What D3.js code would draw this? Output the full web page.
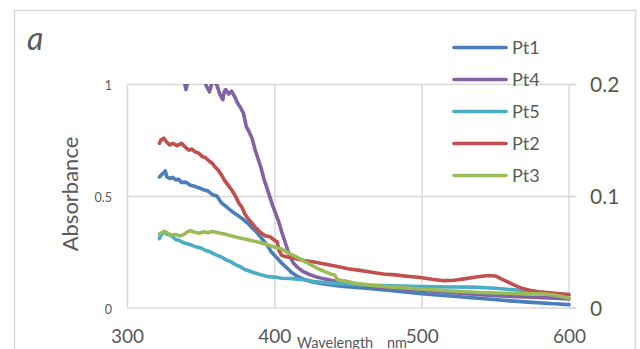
<!DOCTYPE html>
<html>
<head>
<meta charset="utf-8">
<script src="https://cdn.jsdelivr.net/npm/d3@7"></script>
<style>
  html, body { margin: 0; padding: 0; background: #fff; }
  svg { display: block; font-family: Lato, "Open Sans", sans-serif; }
</style>
</head>
<body>
<svg id="chart" width="640" height="349"></svg>
<script>
// Absorbance spectra (wavelength in nm, absorbance)
const pt1Nm  = [322,324,326,327,329,331,333,335,337,340,343,346,349,352,355,358,361,364,367,371,375,378,382,385,388,392,395,398,402,405,409,412,416,420,426,435,445,460,475,490,500,515,530,545,560,575,590,600];
const pt1Abs = [0.585,0.598,0.612,0.585,0.578,0.583,0.572,0.575,0.560,0.562,0.548,0.543,0.536,0.528,0.522,0.506,0.500,0.470,0.455,0.432,0.414,0.400,0.378,0.357,0.338,0.306,0.282,0.250,0.222,0.200,0.176,0.157,0.140,0.128,0.116,0.106,0.097,0.089,0.080,0.071,0.064,0.056,0.048,0.040,0.032,0.025,0.019,0.015];

const pt4Nm  = [322,330,338,340,341,342,348,353,354,356,357,358,361,363,365,366,367,369,371,373,375,377,379,381,383,385,387,389,391,393,395,397,399,401,403,405,407,409,411,413,416,419,423,428,434,443,455,470,485,500,515,530,545,560,575,590,600];
const pt4Abs = [1.10,1.08,1.04,0.975,1.0,1.04,1.03,1.005,0.99,0.965,0.99,1.02,0.995,0.955,0.93,0.965,0.975,0.955,0.968,0.945,0.915,0.895,0.87,0.81,0.785,0.755,0.705,0.665,0.625,0.575,0.535,0.495,0.455,0.42,0.385,0.34,0.30,0.26,0.225,0.20,0.18,0.165,0.152,0.14,0.13,0.117,0.105,0.094,0.086,0.080,0.072,0.064,0.057,0.052,0.048,0.044,0.040];

const pt5Nm  = [322,323,325,327,329,331,333,336,339,342,346,350,353,356,360,364,367,370,374,377,380,384,387,391,396,400,405,410,414,420,427,440,460,480,500,520,535,550,565,580,590,600];
const pt5Abs = [0.31,0.325,0.34,0.33,0.326,0.318,0.306,0.300,0.290,0.285,0.275,0.268,0.258,0.252,0.238,0.228,0.216,0.208,0.192,0.184,0.172,0.163,0.156,0.148,0.140,0.138,0.133,0.132,0.130,0.126,0.118,0.110,0.103,0.099,0.096,0.094,0.093,0.088,0.080,0.070,0.064,0.058];

const pt2Nm  = [322,323,325,327,329,331,334,337,339,342,344,346,349,351,353,356,358,360,362,364,366,369,371,374,376,378,380,382,385,387,389,391,394,397,400,402,403,405,408,411,415,420,427,434,442,450,458,466,474,482,490,499,507,515,522,530,537,545,550,554,558,563,568,574,580,590,600];
const pt2Abs = [0.735,0.75,0.758,0.74,0.728,0.735,0.725,0.735,0.722,0.705,0.710,0.698,0.690,0.676,0.672,0.655,0.645,0.628,0.615,0.595,0.572,0.545,0.528,0.495,0.467,0.45,0.42,0.40,0.378,0.36,0.348,0.335,0.322,0.318,0.303,0.295,0.258,0.235,0.229,0.226,0.220,0.212,0.205,0.196,0.186,0.175,0.168,0.160,0.152,0.148,0.142,0.136,0.128,0.122,0.124,0.131,0.138,0.145,0.143,0.130,0.118,0.102,0.088,0.078,0.072,0.066,0.060];

const pt3Nm  = [322,324,326,328,330,333,336,339,341,343,346,349,352,355,358,362,366,370,375,380,385,390,395,400,405,410,415,420,425,430,435,439,441,443,448,455,465,480,500,520,540,555,570,585,590,600];
const pt3Abs = [0.330,0.338,0.342,0.332,0.326,0.328,0.322,0.330,0.340,0.345,0.338,0.334,0.340,0.336,0.342,0.336,0.330,0.324,0.315,0.308,0.300,0.292,0.283,0.272,0.263,0.244,0.228,0.210,0.192,0.175,0.160,0.150,0.146,0.126,0.120,0.110,0.102,0.093,0.085,0.076,0.069,0.066,0.064,0.062,0.058,0.045];

const seriesNames  = ["Pt1", "Pt4", "Pt5", "Pt2", "Pt3"];
const seriesColors = ["#4a7ebb", "#8064a2", "#4bacc6", "#c0504d", "#9bbb59"];
const seriesNm  = [pt1Nm, pt4Nm, pt5Nm, pt2Nm, pt3Nm];
const seriesAbs = [pt1Abs, pt4Abs, pt5Abs, pt2Abs, pt3Abs];

const xTicks  = [300, 400, 500, 600];
const yTicks  = [0, 0.5, 1];
const y2Ticks = [0, 0.1, 0.2];

const svg = d3.select("#chart");
const grey = "#d9d9d9";
const textGrey = "#595959";

// Chart area frame
svg.append("rect").attr("x", 14.5).attr("y", 10.5).attr("width", 621).attr("height", 360)
  .attr("fill", "#fff").attr("stroke", grey).attr("stroke-width", 1.5);

const plot = { left: 127, right: 569, top: 84, bottom: 308 };
const x  = d3.scaleLinear().domain([300, 600]).range([plot.left, plot.right]);
const y  = d3.scaleLinear().domain([0, 1]).range([plot.bottom, plot.top]);
const y2 = d3.scaleLinear().domain([0, 0.2]).range([plot.bottom, plot.top]);

// Gridlines
const gx = svg.append("g").attr("transform", `translate(0,${plot.bottom})`)
  .call(d3.axisBottom(x).tickValues([400, 500]).tickSize(-(plot.bottom - plot.top)).tickFormat(""));
gx.select(".domain").remove();
gx.selectAll("line").attr("stroke", grey).attr("stroke-width", 1.5);

const gy = svg.append("g").attr("transform", `translate(${plot.left},0)`)
  .call(d3.axisRight(y).tickValues([0.5, 1]).tickSize(plot.right - plot.left + 7).tickFormat(""));
gy.select(".domain").remove();
gy.selectAll("line").attr("stroke", grey).attr("stroke-width", 1.5);

// Left axis
const ax = svg.append("g").attr("transform", `translate(${plot.left},0)`)
  .call(d3.axisLeft(y).tickValues(yTicks).tickSize(0).tickPadding(15).tickFormat(d3.format("")));
ax.select(".domain").attr("stroke", grey).attr("stroke-width", 1.5);
ax.selectAll("text").attr("fill", textGrey).attr("font-size", 12.5).attr("font-family", "Lato")
  .attr("dy", null).attr("y", 5.2);

// Right (secondary) axis
const ar = svg.append("g").attr("transform", `translate(${plot.right},0)`)
  .call(d3.axisRight(y2).tickValues(y2Ticks).tickSize(7).tickPadding(14).tickFormat(d3.format("")));
ar.select(".domain").attr("stroke", grey).attr("stroke-width", 1.5).attr("d", `M0,${plot.top}V${plot.bottom}`);
ar.selectAll("line").attr("stroke", grey).attr("stroke-width", 1.5);
ar.selectAll("text").attr("fill", textGrey).attr("font-size", 21).attr("font-family", "Lato")
  .attr("dy", null).attr("y", 7.6).attr("x", 21);

// Bottom axis
const ab = svg.append("g").attr("transform", `translate(0,${plot.bottom})`)
  .call(d3.axisBottom(x).tickValues(xTicks).tickSize(0).tickFormat(d3.format("")));
ab.select(".domain").attr("stroke", grey).attr("stroke-width", 1.5).attr("d", `M${plot.left},0H${plot.right + 7}`);
ab.selectAll("text").attr("fill", textGrey).attr("font-size", 19).attr("font-family", "Lato")
  .attr("dy", null).attr("y", 35);

// Axis titles
svg.append("text").attr("x", 297).attr("y", 347.5).attr("fill", textGrey)
  .attr("font-size", 14.5).text("Wavelength");
svg.append("text").attr("x", 387).attr("y", 347.5).attr("fill", textGrey)
  .attr("font-size", 14.5).text("nm");
svg.append("text").attr("transform", "translate(78,194) rotate(-90)").attr("text-anchor", "middle")
  .attr("fill", textGrey).attr("font-size", 22).text("Absorbance");

// Panel letter
svg.append("text").attr("x", 27).attr("y", 50).attr("fill", textGrey)
  .attr("font-size", 32).attr("font-style", "italic").text("a");

// Spectra, clipped to the plot area
svg.append("clipPath").attr("id", "plotClip").append("rect")
  .attr("x", plot.left).attr("y", plot.top).attr("width", plot.right - plot.left + 2).attr("height", plot.bottom - plot.top);

const line = d3.line().x(d => x(d[0])).y(d => y(d[1]));
const lines = svg.append("g").attr("clip-path", "url(#plotClip)");
seriesNames.forEach((name, i) => {
  const pts = seriesNm[i].map((nm, j) => [nm, seriesAbs[i][j]]);
  lines.append("path").datum(pts).attr("d", line)
    .attr("fill", "none").attr("stroke", seriesColors[i]).attr("stroke-width", 3.6)
    .attr("stroke-linejoin", "round").attr("stroke-linecap", "round");
});

// Legend
const legendY = d3.scalePoint().domain(seriesNames).range([47.5, 175.5]);
const legend = svg.append("g");
seriesNames.forEach((name, i) => {
  const ly = legendY(name);
  legend.append("line").attr("x1", 454).attr("x2", 506).attr("y1", ly).attr("y2", ly)
    .attr("stroke", seriesColors[i]).attr("stroke-width", 3.6).attr("stroke-linecap", "round");
  legend.append("text").attr("x", 512).attr("y", ly + 6.6).attr("fill", textGrey)
    .attr("font-size", 18).text(name);
});
</script>
</body>
</html>
